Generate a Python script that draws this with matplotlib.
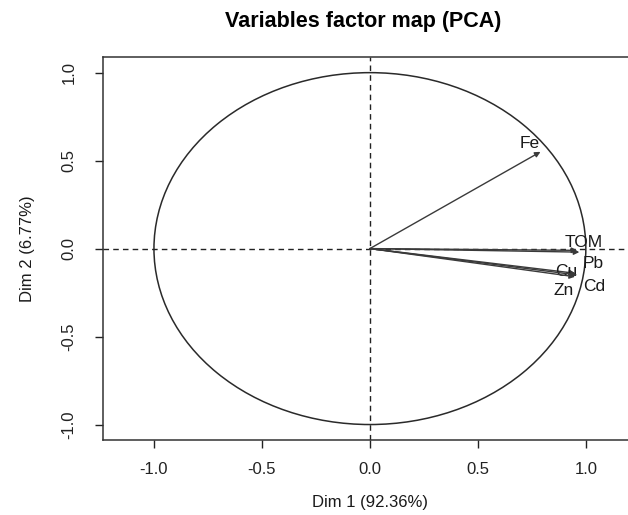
import numpy as np
import matplotlib.pyplot as plt
from matplotlib.patches import Circle

# Variable coordinates on the first two dimensions
variables = ['Fe', 'TOM', 'Pb', 'Cu', 'Cd', 'Zn']
dim1 = [0.79, 0.96, 0.97, 0.95, 0.96, 0.95]
dim2 = [0.55, -0.01, -0.02, -0.14, -0.15, -0.16]

# label offsets (points) relative to arrow tips
label_dx = [-8, 5, 10, -6, 12, -8]
label_dy = [6, 6, -8, 1, -8, -10]

ticks = [-1.0, -0.5, 0.0, 0.5, 1.0]
tick_labels = ['-1.0', '-0.5', '0.0', '0.5', '1.0']

plt.rcParams['font.family'] = ['Liberation Sans', 'DejaVu Sans']

fig = plt.figure(figsize=(6.28, 5.15), dpi=100)
ax = fig.add_axes([0.164, 0.1456, 0.85, 0.7434])
ax.set_xlim(-1.236, 1.236)
ax.set_ylim(-1.088, 1.088)

# unit circle and dashed axes
ax.add_patch(Circle((0, 0), 1.0, fill=False, ec='#2a2a2a', lw=1.1))
ax.axhline(0, color='#222222', lw=1.0, ls=(0, (4, 3)))
ax.axvline(0, color='#222222', lw=1.0, ls=(0, (4, 3)))

for name, x, y, dx, dy in zip(variables, dim1, dim2, label_dx, label_dy):
    ax.annotate('', xy=(x, y), xytext=(0, 0),
                arrowprops=dict(arrowstyle='-|>', color='#3a3a3a', lw=1.0,
                                mutation_scale=8, shrinkA=0, shrinkB=0))
    ax.annotate(name, xy=(x, y), xytext=(dx, dy), textcoords='offset points',
                ha='center', va='center', fontsize=12.5, color='#1a1a1a')

ax.set_xticks(ticks)
ax.set_xticklabels(tick_labels)
ax.set_yticks(ticks)
ax.set_yticklabels(tick_labels, rotation=90, va='center')
ax.tick_params(direction='out', length=6, width=1, labelsize=12,
               colors='#222222')
ax.tick_params(axis='x', pad=10)
ax.tick_params(axis='y', pad=13)
for s in ax.spines.values():
    s.set_color('#333333')
    s.set_linewidth(1.1)

ax.set_xlabel('Dim 1 (92.36%)', fontsize=12, color='#1a1a1a', labelpad=13)
ax.set_ylabel('Dim 2 (6.77%)', fontsize=12, color='#1a1a1a', labelpad=19)
fig.text(363 / 628, 1 - 22 / 515, 'Variables factor map (PCA)',
         ha='center', va='center', fontsize=15.5, fontweight='bold')

fig.savefig('out.png', dpi=100)
